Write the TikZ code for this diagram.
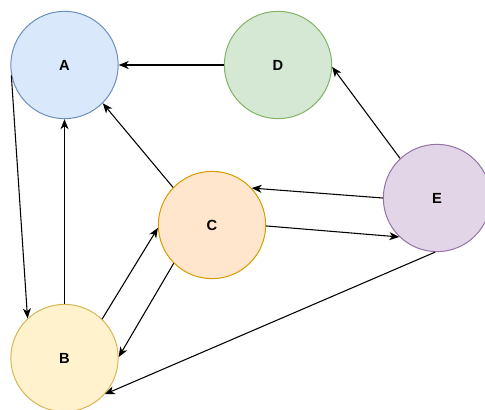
\documentclass[tikz,border=0pt]{standalone}
\usepackage{fontspec}
\setmainfont{Liberation Sans}
\usetikzlibrary{arrows.meta}
\definecolor{afill}{HTML}{DAE8FC}\definecolor{aline}{HTML}{6C8EBF}
\definecolor{dfill}{HTML}{D5E8D4}\definecolor{dline}{HTML}{82B366}
\definecolor{cfill}{HTML}{FFE6CC}\definecolor{cline}{HTML}{D79B00}
\definecolor{efill}{HTML}{E1D5E7}\definecolor{eline}{HTML}{9673A6}
\definecolor{bfill}{HTML}{FFF2CC}\definecolor{bline}{HTML}{D6B656}
\begin{document}
\begin{tikzpicture}[x=0.75pt,y=-0.75pt,
  vtx/.style={circle,draw,line width=0.75pt,minimum size=80.5pt,inner sep=0pt,
    font=\fontsize{11}{13}\selectfont\bfseries},
  conn/.style={line width=0.8pt,-{Stealth[length=7.5pt,width=6pt,inset=2.2pt]}}]
\useasboundingbox (0,0) rectangle (485,410);
\node[vtx,fill=afill,draw=aline] (A) at (64.5,65) {A};
\node[vtx,fill=dfill,draw=dline] (D) at (278,65) {D};
\node[vtx,fill=cfill,draw=cline] (C) at (212,225) {C};
\node[vtx,fill=efill,draw=eline] (E) at (437,198) {E};
\node[vtx,fill=bfill,draw=bline] (B) at (64.5,358) {B};
\draw[conn] (D.west) -- (A.east);
\draw[conn] (A.191) -- (B.133);
\draw[conn] (B.north) -- (A.south);
\draw[conn] (C.136) -- (A.315);
\draw[conn] (B.46) -- (C.183);
\draw[conn] (C.225) -- (B.1);
\draw[conn] (E.180) -- (C.43);
\draw[conn] (C.359) -- (E.226);
\draw[conn] (E.133) -- (D.358);
\draw[conn] (E.268) -- (B.318);
\end{tikzpicture}
\end{document}
